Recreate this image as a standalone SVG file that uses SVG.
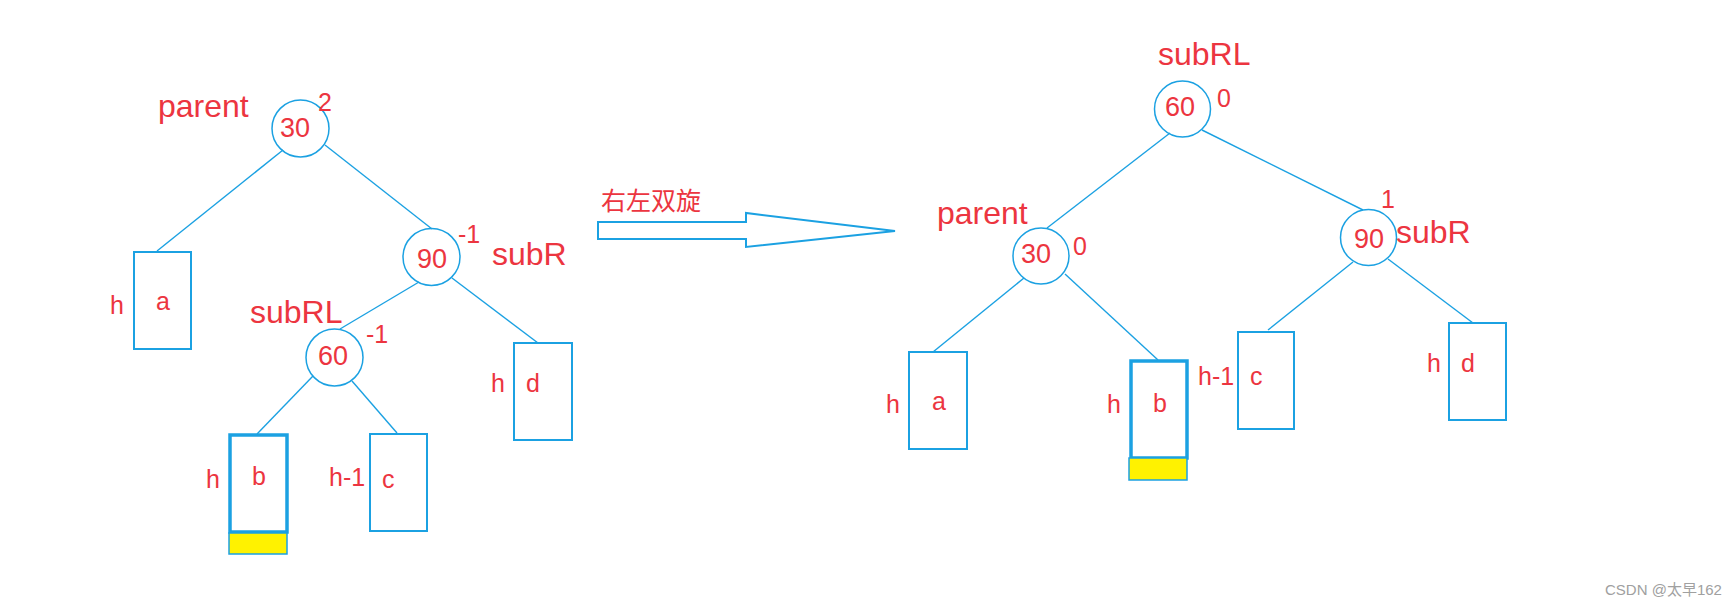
<svg xmlns="http://www.w3.org/2000/svg" width="1732" height="606" viewBox="0 0 1732 606">
<style>
.n{fill:none;stroke:#1ba1e2;stroke-width:1.5}
.bx{fill:none;stroke:#1ba1e2;stroke-width:2}
.bt{fill:none;stroke:#1ba1e2;stroke-width:3.5}
.y{fill:#fff200;stroke:#1ba1e2;stroke-width:1.5}
.e{stroke:#1ba1e2;stroke-width:1.4;fill:none}
text{font-family:"Liberation Sans",Arial,sans-serif;fill:#ec3540}
.big{font-size:32px}
.num{font-size:27px}
.bf{font-size:25px}
.lb{font-size:25px}
</style>
<rect width="1732" height="606" fill="#fff"/>
<g id="connectors">
<line class="e" x1="283" y1="150" x2="157" y2="251"/>
<line class="e" x1="325" y1="145" x2="432" y2="229"/>
<line class="e" x1="419" y1="282" x2="340" y2="329"/>
<line class="e" x1="452" y1="278" x2="538" y2="343"/>
<line class="e" x1="313" y1="376" x2="257" y2="434"/>
<line class="e" x1="352" y1="381" x2="397" y2="433"/>
<line class="e" x1="1170" y1="133" x2="1047" y2="228"/>
<line class="e" x1="1202" y1="130" x2="1363" y2="210"/>
<line class="e" x1="1024" y1="278" x2="933" y2="352"/>
<line class="e" x1="1065" y1="274" x2="1158" y2="360"/>
<line class="e" x1="1353" y1="262" x2="1268" y2="330"/>
<line class="e" x1="1388" y1="259" x2="1473" y2="323"/>
</g>
<g id="arrow">
<polygon points="598,222 746,222 746,213 895,231 746,247 746,239 598,239" fill="none" stroke="#1ba1e2" stroke-width="2"/>
<text x="601" y="210" style="font-size:25px;font-family:'Liberation Sans','Noto Sans CJK SC',sans-serif">右左双旋</text>
</g>
<g id="L30"><circle class="n" cx="300.5" cy="128.5" r="28.5"/><text class="num" x="280" y="137">30</text><text class="bf" x="318" y="111">2</text><text class="big" x="158" y="117">parent</text></g>
<g id="L90"><circle class="n" cx="431.5" cy="257" r="28.5"/><text class="num" x="417" y="268">90</text><text class="bf" x="458" y="243">-1</text><text class="big" x="492" y="265">subR</text></g>
<g id="L60"><circle class="n" cx="334.5" cy="357.5" r="28.5"/><text class="num" x="318" y="365">60</text><text class="bf" x="366" y="343">-1</text><text class="big" x="250" y="323">subRL</text></g>
<g id="La"><rect class="bx" x="134" y="252" width="57" height="97"/><text class="lb" x="110" y="314">h</text><text class="lb" x="156" y="310">a</text></g>
<g id="Lb"><rect class="bt" x="230" y="435" width="57" height="97"/><rect class="y" x="229" y="533" width="58" height="21"/><text class="lb" x="206" y="488">h</text><text class="lb" x="252" y="485">b</text></g>
<g id="Lc"><rect class="bx" x="370" y="434" width="57" height="97"/><text class="lb" x="329" y="486">h-1</text><text class="lb" x="382" y="488">c</text></g>
<g id="Ld"><rect class="bx" x="514" y="343" width="58" height="97"/><text class="lb" x="491" y="392">h</text><text class="lb" x="526" y="392">d</text></g>
<g id="R60"><circle class="n" cx="1182.5" cy="109" r="28"/><text class="num" x="1165" y="116">60</text><text class="lb" x="1217" y="107">0</text><text class="big" x="1158" y="65">subRL</text></g>
<g id="R30"><circle class="n" cx="1041" cy="256" r="28"/><text class="num" x="1021" y="263">30</text><text class="lb" x="1073" y="255">0</text><text class="big" x="937" y="224">parent</text></g>
<g id="R90"><circle class="n" cx="1368.5" cy="237.5" r="28"/><text class="num" x="1354" y="248">90</text><text class="lb" x="1381" y="208">1</text><text class="big" x="1396" y="243">subR</text></g>
<g id="Ra"><rect class="bx" x="909" y="352" width="58" height="97"/><text class="lb" x="886" y="413">h</text><text class="lb" x="932" y="410">a</text></g>
<g id="Rb"><rect class="bt" x="1131" y="361" width="56" height="97"/><rect class="y" x="1129" y="458" width="58" height="22"/><text class="lb" x="1107" y="413">h</text><text class="lb" x="1153" y="412">b</text></g>
<g id="Rc"><rect class="bx" x="1238" y="332" width="56" height="97"/><text class="lb" x="1198" y="385">h-1</text><text class="lb" x="1250" y="385">c</text></g>
<g id="Rd"><rect class="bx" x="1449" y="323" width="57" height="97"/><text class="lb" x="1427" y="372">h</text><text class="lb" x="1461" y="372">d</text></g>
<text x="1605" y="595" style="font-size:15px;fill:#a0a0a0;font-family:'Liberation Sans','Noto Sans CJK SC',sans-serif">CSDN @太早162</text>
</svg>
